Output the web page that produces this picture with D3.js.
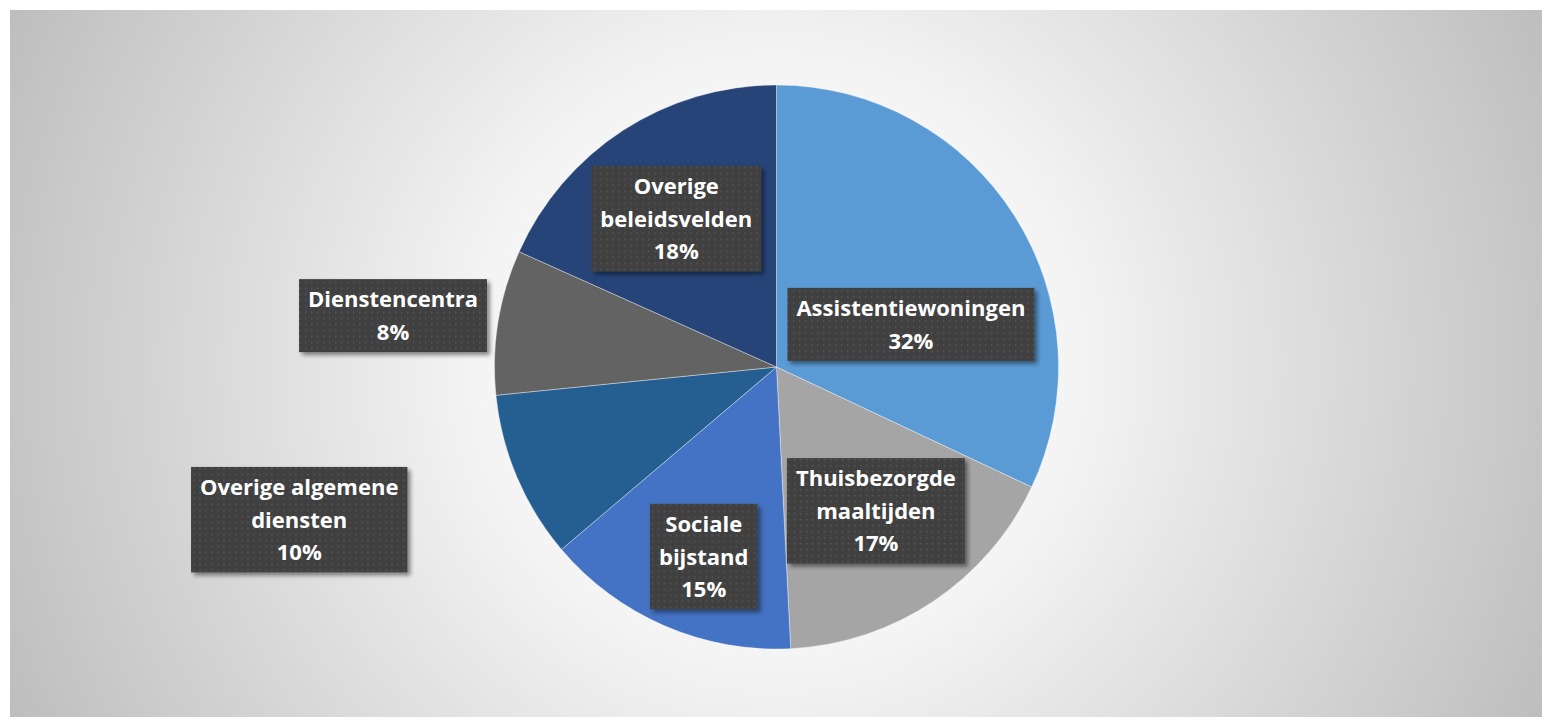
<!DOCTYPE html>
<html>
<head>
<meta charset="utf-8">
<script src="https://cdn.jsdelivr.net/npm/d3@7"></script>
<style>
  html, body { margin: 0; padding: 0; background: #ffffff; }
  svg { display: block; }
</style>
</head>
<body>
<svg id="chart" width="1542" height="717"></svg>
<script>
// ---- data ----
const categories = [
  "Assistentiewoningen",
  "Thuisbezorgde maaltijden",
  "Sociale bijstand",
  "Overige algemene diensten",
  "Dienstencentra",
  "Overige beleidsvelden"
];
const values = [32.0, 17.2, 14.6, 9.6, 8.3, 18.3];
const labelLines = [
  ["Assistentiewoningen"],
  ["Thuisbezorgde", "maaltijden"],
  ["Sociale", "bijstand"],
  ["Overige algemene", "diensten"],
  ["Dienstencentra"],
  ["Overige", "beleidsvelden"]
];

// ---- styling / layout ----
const colors = ["#5B9BD5", "#A5A5A5", "#4472C4", "#255E91", "#636363", "#264478"];
// label placement (best-fit like): radius as fraction of pie radius, angular shift in degrees
const labelRadius = [0.50, 0.62, 0.72, 1.777, 1.372, 0.635];
const labelShift = [14.8, -0.8, -2.4, 5.3, -1.55, -1.1];

const W = 1542, H = 717;
const cx = 776.5, cy = 367, R = 282;
const fontSize = 22, lineH = 32.5, padX = 9;

const svg = d3.select("#chart");
const defs = svg.append("defs");

const bg = defs.append("radialGradient").attr("id", "bgGrad")
  .attr("gradientUnits", "userSpaceOnUse")
  .attr("cx", cx).attr("cy", 363).attr("r", 850);
bg.append("stop").attr("offset", 0).attr("stop-color", "#ffffff");
bg.append("stop").attr("offset", 0.35).attr("stop-color", "#f4f4f4");
bg.append("stop").attr("offset", 1).attr("stop-color", "#bdbdbd");

const pat = defs.append("pattern").attr("id", "dots")
  .attr("patternUnits", "userSpaceOnUse").attr("width", 6).attr("height", 6);
pat.append("rect").attr("width", 6).attr("height", 6).attr("fill", "#404040");
pat.append("rect").attr("x", 2).attr("y", 2).attr("width", 1.4).attr("height", 1.4).attr("fill", "#5c5c5c");

const sh = defs.append("filter").attr("id", "shadow")
  .attr("x", "-20%").attr("y", "-20%").attr("width", "140%").attr("height", "140%");
sh.append("feDropShadow").attr("dx", 3).attr("dy", 3).attr("stdDeviation", 2.2)
  .attr("flood-color", "#000").attr("flood-opacity", 0.45);

svg.append("rect").attr("x", 10).attr("y", 10)
  .attr("width", W - 10).attr("height", H - 10)
  .attr("fill", "url(#bgGrad)");

const pie = d3.pie().sort(null).value(d => d)
  .startAngle(0).endAngle(2 * Math.PI);
const arcs = pie(values);
const arc = d3.arc().innerRadius(0).outerRadius(R);

const g = svg.append("g").attr("transform", `translate(${cx},${cy})`);
g.selectAll("path.slice").data(arcs).join("path")
  .attr("class", "slice")
  .attr("d", arc)
  .attr("fill", (d, i) => colors[i])
  .attr("stroke", "#ffffff").attr("stroke-opacity", 0.5).attr("stroke-width", 0.75);

// labels
const lg = g.append("g").attr("font-family", "'Open Sans', 'DejaVu Sans', sans-serif")
  .attr("font-weight", "bold").attr("font-size", fontSize);

const total = d3.sum(values);
arcs.forEach((d, i) => {
  const mid = (d.startAngle + d.endAngle) / 2 + labelShift[i] * Math.PI / 180;
  const rr = R * labelRadius[i];
  const lx = rr * Math.sin(mid), ly = -rr * Math.cos(mid);
  const pct = Math.round(d.value * 100 / total + 1e-9) + "%";
  const lines = labelLines[i].concat([pct]);
  const grp = lg.append("g").attr("transform", `translate(${lx},${ly})`);
  const box = grp.append("rect").attr("fill", "url(#dots)").attr("filter", "url(#shadow)");
  const txt = grp.append("text").attr("fill", "#ffffff").attr("text-anchor", "middle");
  const n = lines.length;
  lines.forEach((s, k) => {
    txt.append("tspan").attr("x", 0)
      .attr("y", (k - (n - 1) / 2) * lineH + 8)
      .text(s);
  });
  let maxW = 0;
  txt.selectAll("tspan").each(function() { maxW = Math.max(maxW, this.getComputedTextLength()); });
  const bw = maxW + 2 * padX, bh = n * lineH + 8;
  box.attr("x", -bw / 2).attr("y", -bh / 2).attr("width", bw).attr("height", bh);
});
</script>
</body>
</html>
